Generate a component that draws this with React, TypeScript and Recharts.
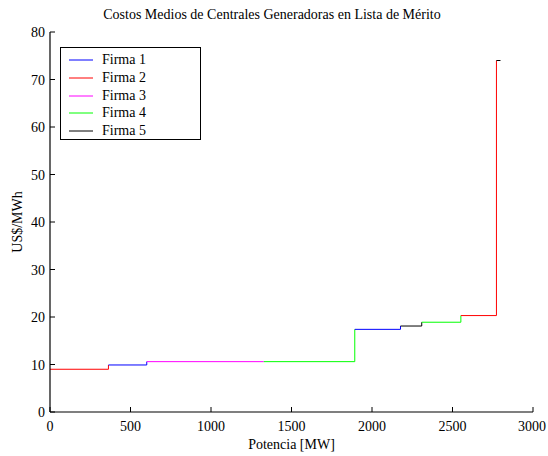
import React from "react";
import { LineChart, Line, XAxis, YAxis } from "recharts";

const firmNames = ["Firma 1", "Firma 2", "Firma 3", "Firma 4", "Firma 5"];
const firmColors = ["#0000ff", "#ff0000", "#ff00ff", "#00ff00", "#000000"];

// merit-order segments
const segStart = [0, 363, 601, 1328, 1893, 2177, 2309, 2552, 2773];
const segEnd = [363, 601, 1328, 1893, 2177, 2309, 2552, 2773, 2798];
const segCost = [9.0, 9.9, 10.6, 10.6, 17.4, 18.1, 18.9, 20.3, 74.0];
const segFirm = [2, 1, 3, 4, 1, 5, 4, 2, 5];

const xTicks = [0, 500, 1000, 1500, 2000, 2500, 3000];
const yTicks = [0, 10, 20, 30, 40, 50, 60, 70, 80];

const title = "Costos Medios de Centrales Generadoras en Lista de Mérito";
const xLabel = "Potencia [MW]";
const yLabel = "US$/MWh";

const FONT = '"Liberation Serif", "Times New Roman", serif';

const segments = segStart.map((s, i) => {
  const pts = [
    { x: s, y: segCost[i] },
    { x: segEnd[i], y: segCost[i] },
  ];
  if (i + 1 < segStart.length) pts.push({ x: segEnd[i], y: segCost[i + 1] });
  return { data: pts, color: firmColors[segFirm[i] - 1] };
});

const NoLabel = () => <g />;

const XTick = (props: any) => (
  <text
    x={props.x}
    y={props.y}
    dy={10}
    textAnchor="middle"
    fill="#000"
    style={{ fontFamily: FONT, fontSize: 14 }}
  >
    {props.payload.value}
  </text>
);

const YTick = (props: any) => (
  <text
    x={props.x}
    y={props.y}
    dy={5}
    textAnchor="end"
    fill="#000"
    style={{ fontFamily: FONT, fontSize: 14 }}
  >
    {props.payload.value}
  </text>
);

export default function App() {
  return (
    <div
      style={{
        position: "absolute",
        left: 0,
        top: 0,
        width: 548,
        height: 456,
        background: "#fff",
        fontFamily: FONT,
      }}
    >
      <LineChart
        width={548}
        height={456}
        margin={{ top: 32, right: 15, bottom: 0, left: 0 }}
        style={{ fontFamily: FONT }}
      >
        <XAxis
          xAxisId="b"
          type="number"
          dataKey="x"
          domain={[0, 3000]}
          ticks={xTicks}
          orientation="bottom"
          height={44}
          tickSize={-5}
          tickMargin={14}
          tick={XTick}
          axisLine={{ stroke: "#000", strokeWidth: 1.2 }}
          tickLine={{ stroke: "#000" }}
          allowDataOverflow
        />
        <XAxis
          xAxisId="t"
          type="number"
          domain={[0, 3000]}
          ticks={xTicks}
          orientation="top"
          height={0}
          tickSize={-5}
          tick={NoLabel}
          axisLine={{ stroke: "#000", strokeWidth: 1.2 }}
          tickLine={{ stroke: "#000" }}
        />
        <YAxis
          yAxisId="l"
          type="number"
          domain={[0, 80]}
          ticks={yTicks}
          width={50}
          tickSize={-5}
          tickMargin={10}
          tick={YTick}
          axisLine={{ stroke: "#000", strokeWidth: 1.2 }}
          tickLine={{ stroke: "#000" }}
          allowDataOverflow
        />
        <YAxis
          yAxisId="r"
          type="number"
          orientation="right"
          domain={[0, 80]}
          ticks={yTicks}
          width={0}
          tickSize={-5}
          tick={NoLabel}
          axisLine={{ stroke: "#000", strokeWidth: 1.2 }}
          tickLine={{ stroke: "#000" }}
        />
        {segments.map((seg, i) => (
          <Line
            key={i}
            xAxisId="b"
            yAxisId="l"
            data={seg.data}
            dataKey="y"
            type="linear"
            stroke={seg.color}
            strokeWidth={1}
            dot={false}
            activeDot={false}
            isAnimationActive={false}
          />
        ))}
      </LineChart>

      <div
        style={{
          position: "absolute",
          left: 0,
          width: 544,
          top: 6,
          textAlign: "center",
          fontSize: 14,
          lineHeight: "18px",
          color: "#000",
          whiteSpace: "nowrap",
        }}
      >
        {title}
      </div>

      <div
        style={{
          position: "absolute",
          left: 50,
          width: 483,
          top: 436,
          textAlign: "center",
          fontSize: 14,
          lineHeight: "18px",
          color: "#000",
        }}
      >
        {xLabel}
      </div>

      <div
        style={{
          position: "absolute",
          left: 18,
          top: 222,
          transform: "translate(-50%, -50%) rotate(-90deg)",
          fontSize: 14,
          lineHeight: "18px",
          color: "#000",
          whiteSpace: "nowrap",
        }}
      >
        {yLabel}
      </div>

      <div
        style={{
          position: "absolute",
          left: 60,
          top: 47,
          width: 139,
          height: 91,
          border: "1.3px solid #000",
          background: "#fff",
        }}
      >
        {firmNames.map((name, i) => (
          <div
            key={name}
            style={{
              position: "absolute",
              left: 0,
              top: 3 + i * 17.8,
              height: 18,
              width: 139,
            }}
          >
            <svg
              width={26}
              height={18}
              style={{ position: "absolute", left: 8, top: 0 }}
            >
              <line x1={0} y1={9} x2={24} y2={9} stroke={firmColors[i]} strokeWidth={1} />
            </svg>
            <span
              style={{
                position: "absolute",
                left: 41,
                top: 0,
                fontSize: 14,
                lineHeight: "18px",
                color: "#000",
                whiteSpace: "nowrap",
              }}
            >
              {name}
            </span>
          </div>
        ))}
      </div>
    </div>
  );
}
